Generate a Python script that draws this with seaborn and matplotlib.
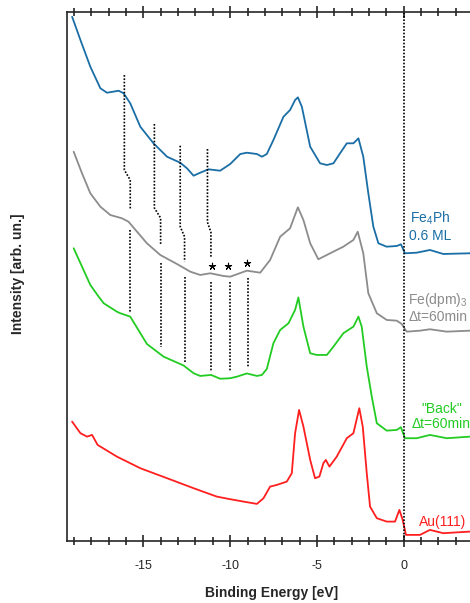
import numpy as np
import pandas as pd
import matplotlib
matplotlib.use("Agg")
import matplotlib.pyplot as plt
from matplotlib.ticker import MultipleLocator
import seaborn as sns

# --- spectra (binding energy in eV, intensity in arbitrary units) ---
fe4ph_e = [-19.11, -18.63, -18.06, -17.48, -17.1, -16.43, -16.14, -15.76, -15.18, -14.42,
           -13.64, -12.88, -12.49, -12.11, -11.73, -11.25, -10.58, -10.0, -9.42, -9.04,
           -8.46, -8.17, -7.89, -7.51, -6.93, -6.55, -6.26, -6.10, -5.87, -5.39,
           -4.82, -4.43, -4.05, -3.67, -3.28, -2.90, -2.61, -2.33, -2.04, -1.75,
           -1.46, -0.98, -0.40, -0.16, 0.07, 0.75, 1.51, 2.28, 3.82]
fe4ph_i = [524.3, 501, 474.3, 452.7, 448.3, 450.3, 447.7, 437.7, 414.3, 397.7,
           384.3, 378.3, 372.7, 365.3, 368.3, 371.7, 370.3, 377, 387, 388.3,
           387, 384.3, 387, 401, 424.3, 431, 441, 443.7, 434.3, 394.3,
           377.7, 376, 377.7, 387.7, 397.7, 397.7, 402.7, 384.3, 347.7, 314.3,
           297.7, 294.3, 295, 296.7, 287.7, 288.3, 291, 287, 287.7]

fedpm_e = [-19.02, -18.54, -18.06, -17.48, -16.91, -16.24, -15.86, -15.37, -14.80, -14.03,
           -13.07, -12.30, -11.73, -11.15, -10.39, -10.0, -9.04, -8.27, -7.70, -7.12,
           -6.55, -6.10, -5.78, -5.39, -4.92, -4.24, -3.48, -2.90, -2.65, -2.33,
           -2.04, -1.55, -0.98, -0.40, -0.12, 0.17, 0.94, 1.51, 2.48, 3.82]
fedpm_i = [389.3, 367.7, 347.7, 334.3, 326, 322.7, 319.3, 309.3, 297.7, 286,
           277, 269.3, 266, 267.7, 265, 264.3, 270.3, 268.3, 281, 304.3,
           312.7, 333.7, 321, 297.7, 281.7, 287.7, 294.3, 301, 309.3, 287.7,
           247.7, 227.7, 221, 220.3, 217, 209.3, 210.3, 211.7, 209.3, 210.3]

back_e = [-19.02, -18.06, -17.58, -17.29, -16.53, -16.33, -15.76, -14.80, -13.84, -12.69,
          -12.11, -11.73, -11.1, -10.58, -10.0, -9.61, -9.04, -8.46, -8.17, -7.89,
          -7.51, -7.12, -6.64, -6.26, -6.07, -5.78, -5.39, -5.01, -4.43, -4.05,
          -3.48, -2.90, -2.61, -2.42, -2.13, -1.84, -1.55, -0.98, -0.40, -0.16,
          0.07, 0.75, 1.51, 2.48, 3.82]
back_i = [292.7, 256, 244.3, 237.7, 229.3, 227.7, 224.3, 197, 184.3, 175.5,
          167.7, 165, 166, 162.2, 162.7, 164.3, 167.5, 165, 166, 172,
          197.7, 211, 217.7, 231, 243.5, 214.3, 187.7, 186, 186, 194.3,
          207.7, 214.3, 224.3, 214.3, 174.3, 144.3, 117.7, 110.3, 111, 113.7,
          102.7, 102.7, 106, 102.7, 104.3]

au_e = [-19.11, -18.63, -18.25, -17.96, -17.64, -16.53, -15.18, -13.64, -12.11, -10.77,
        -10.0, -9.23, -8.46, -8.08, -7.70, -7.31, -6.74, -6.45, -6.26, -6.03,
        -5.78, -5.39, -5.11, -4.86, -4.63, -4.49, -4.28, -3.86, -3.28, -2.90,
        -2.56, -2.36, -2.13, -1.94, -1.55, -0.98, -0.50, -0.25, -0.06, 0.13,
        0.94, 1.51, 2.28, 3.82]
au_i = [119.3, 107.7, 104.3, 106, 96, 84.3, 72.7, 62.7, 52.7, 44.3,
        41.7, 39.3, 37, 42.7, 54.3, 56, 59.3, 67.7, 107.7, 131,
        114.3, 81, 62.7, 64.3, 77.7, 81, 74.3, 84.3, 102.7, 107.7,
        132.7, 114.3, 67.7, 34.3, 22.7, 19.3, 19.3, 31, 21, 6,
        6, 11, 7.7, 9.3]

# --- feature guides: (x_top, y_top, x_bend, y_bend, y_end) for the Fe4Ph -> Fe(dpm)3 part,
#     and (x, y_top, y_bottom) for the Fe(dpm)3 -> "Back" part ---
guide_upper = [(-16.10, 466, -15.76, 361, 331),
               (-14.37, 417, -14.01, 323, 296),
               (-12.88, 395.3, -12.63, 304.3, 279.3),
               (-11.31, 392, -11.11, 308.7, 284.3)]
guide_lower = [(-15.76, 311, 229.3),
               (-14.01, 277.7, 194.3),
               (-12.63, 264.3, 177.7),
               (-11.11, 259.3, 169.3),
               (-10.04, 259.3, 169.3),
               (-8.95, 262.7, 172.7)]
star_e = [-11.02, -10.10, -9.04]
star_i = [275, 275, 277.7]

labels = ["Fe$_4$Ph\n0.6 ML", "Fe(dpm)$_3$\n\u0394t=60min", "\"Back\"\n\u0394t=60min", "Au(111)"]
label_pos = [(1.51, 314.5), (1.98, 233.5), (2.17, 124.5), (2.24, 19.3)]

series_e = [fe4ph_e, fedpm_e, back_e, au_e]
series_i = [fe4ph_i, fedpm_i, back_i, au_i]
colors = ["#1a6ea6", "#8c8c8c", "#22cc22", "#ff1f1f"]

sns.set_style("ticks")
plt.rcParams["font.family"] = ["Liberation Sans", "DejaVu Sans"]
plt.rcParams["mathtext.default"] = "regular"
plt.rcParams["axes.unicode_minus"] = False

fig = plt.figure(figsize=(4.70, 6.03), dpi=100)
ax = fig.add_axes([0.142, 0.103, 0.858, 0.877])

for e, i, c in zip(series_e, series_i, colors):
    df = pd.DataFrame({"energy": e, "intensity": i})
    sns.lineplot(data=df, x="energy", y="intensity", color=c, linewidth=1.3,
                 sort=False, estimator=None, ax=ax)

dot = dict(color="black", linestyle=(0, (1, 1)), linewidth=1.2)
for xt, yt, xb, yb, ye in guide_upper:
    ax.plot([xt, xt, xb, xb], [yt, yb + 10, yb, ye], **dot)
for x, yt, yb in guide_lower:
    ax.plot([x, x], [yt, yb], **dot)
ax.axvline(0, **dot)

ax.scatter(star_e, star_i, marker=(5, 2, 0), s=22, color="black", linewidths=0.8)

for txt, (x, y), c in zip(labels, label_pos, colors):
    ax.text(x, y, txt, color=c, fontsize=10, ha="center", va="center", linespacing=1.15)

ax.set_xlim(-19.42, 3.82)
ax.set_ylim(0, 529)
ax.xaxis.set_major_locator(MultipleLocator(5))
ax.xaxis.set_minor_locator(MultipleLocator(1))
ax.tick_params(axis="x", which="both", direction="inout", top=True, labeltop=False,
               labelsize=9, pad=9, width=1.2)
ax.tick_params(axis="x", which="major", length=9)
ax.tick_params(axis="x", which="minor", length=5.5)
ax.set_yticks([])
for side in ["left", "bottom", "top"]:
    ax.spines[side].set_linewidth(1.2)
ax.spines["right"].set_visible(False)

ax.set_xlabel("Binding Energy [eV]", fontsize=10, fontweight="bold")
ax.set_ylabel("Intensity [arb. un.]", fontsize=10, fontweight="bold")
ax.xaxis.set_label_coords(0.508, -0.085)
ax.yaxis.set_label_coords(-0.104, 0.505)

fig.savefig("out.png", dpi=100)
